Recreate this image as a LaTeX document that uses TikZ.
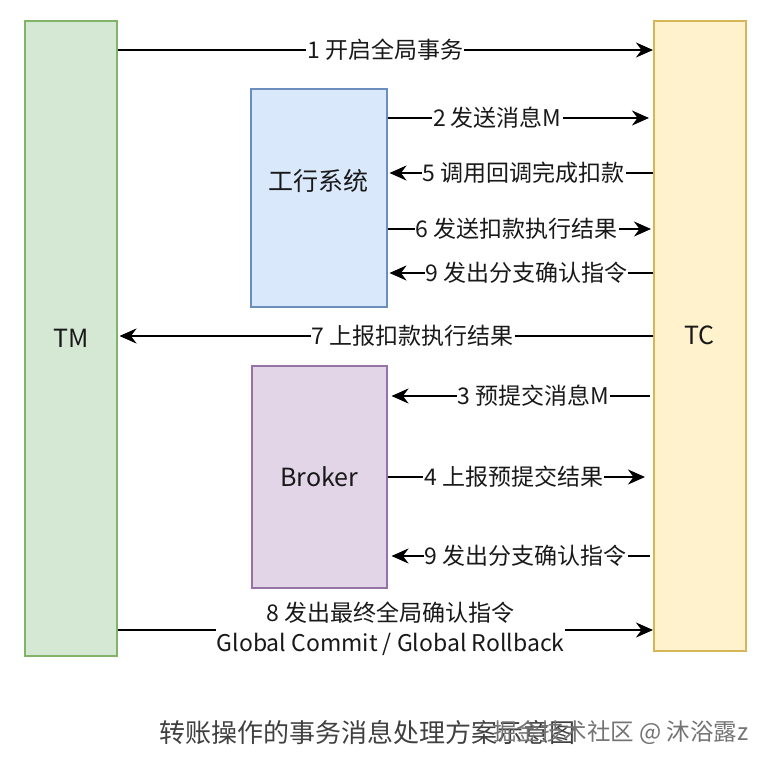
\documentclass[tikz,border=0pt]{standalone}
\usepackage{fontspec}
\setmainfont{Noto Sans CJK SC}
\usetikzlibrary{arrows.meta}
\definecolor{tmfill}{HTML}{D5E8D4}
\definecolor{tmline}{HTML}{82B366}
\definecolor{tcfill}{HTML}{FFF2CC}
\definecolor{tcline}{HTML}{D6B656}
\definecolor{ghfill}{HTML}{DAE8FC}
\definecolor{ghline}{HTML}{6C8EBF}
\definecolor{bkfill}{HTML}{E1D5E7}
\definecolor{bkline}{HTML}{9673A6}
\tikzset{
  part/.style={draw, line width=1.5pt, minimum width=92pt, anchor=north west,
    inner sep=0pt, text=black!90, font=\fontsize{25}{30}\selectfont},
  msg/.style={line width=2pt, -{Stealth[length=17pt,width=15pt]}},
  lbl/.style={fill=white, inner sep=1pt, text=black!90,
    font=\fontsize{23}{30}\selectfont},
}

\begin{document}
\begin{tikzpicture}[x=1pt,y=-1pt]
    \useasboundingbox (0,0) rectangle (772,766);
    \node[part, fill=tmfill, draw=tmline, minimum height=635pt] (tm) at (24,20) {TM};
    \node[part, fill=tcfill, draw=tcline, minimum height=630pt] (tc) at (653,20) {TC};
    \node[part, fill=ghfill, draw=ghline, minimum width=136pt, minimum height=218pt,
      label={[font=\fontsize{25}{30}\selectfont, text=black!90, yshift=17pt]center:工行系统}] (gh) at (250,88) {};
    \node[part, fill=bkfill, draw=bkline, minimum width=135pt, minimum height=222pt] (bk) at (251,365) {Broker};
    % messages
    \draw[msg] (tm.east |- 0,50) -- node[lbl, pos=0.5] {1 开启全局事务} (tc.west |- 0,50);
    \draw[msg] (gh.east |- 0,118) -- node[lbl, pos=0.42] {2 发送消息M} ([xshift=-4pt]tc.west |- 0,118);
    \draw[msg] (tc.west |- 0,173) -- node[lbl, pos=0.49] {5 调用回调完成扣款} ([xshift=2pt]gh.east |- 0,173);
    \draw[msg] (gh.east |- 0,229) -- node[lbl, pos=0.49] {6 发送扣款执行结果} ([xshift=-2pt]tc.west |- 0,229);
    \draw[msg] (tc.west |- 0,273) -- node[lbl, pos=0.48] {9 发出分支确认指令} ([xshift=2pt]gh.east |- 0,273);
    \draw[msg] (tc.west |- 0,336) -- node[lbl, pos=0.45] {7 上报扣款执行结果} ([xshift=2pt]tm.east |- 0,336);
    \draw[msg] ([xshift=-3pt]tc.west |- 0,396) -- node[lbl, pos=0.45] {3 预提交消息M} ([xshift=4pt]bk.east |- 0,396);
    \draw[msg] (bk.east |- 0,477) -- node[lbl, pos=0.49] {4 上报预提交结果} ([xshift=-8pt]tc.west |- 0,477);
    \draw[msg] ([xshift=-3pt]tc.west |- 0,556) -- node[lbl, pos=0.48] {9 发出分支确认指令} ([xshift=4pt]bk.east |- 0,556);
    \draw[msg] (tm.east |- 0,630) -- node[lbl, pos=0.51, align=center, yshift=1pt] {8 发出最终全局确认指令\\Global Commit / Global Rollback} (tc.west |- 0,630);
    % caption
    \node[anchor=west, text=black!75, font=\fontsize{26}{30}\selectfont] (cap) at (156,733) {转账操作的事务消息处理方案示意图};
    \node[anchor=east, text=black!55, font=\fontsize{23.5}{27}\selectfont] (wm) at (752,733) {掘金技术社区 @ 沐浴露z};
\end{tikzpicture}
\end{document}
